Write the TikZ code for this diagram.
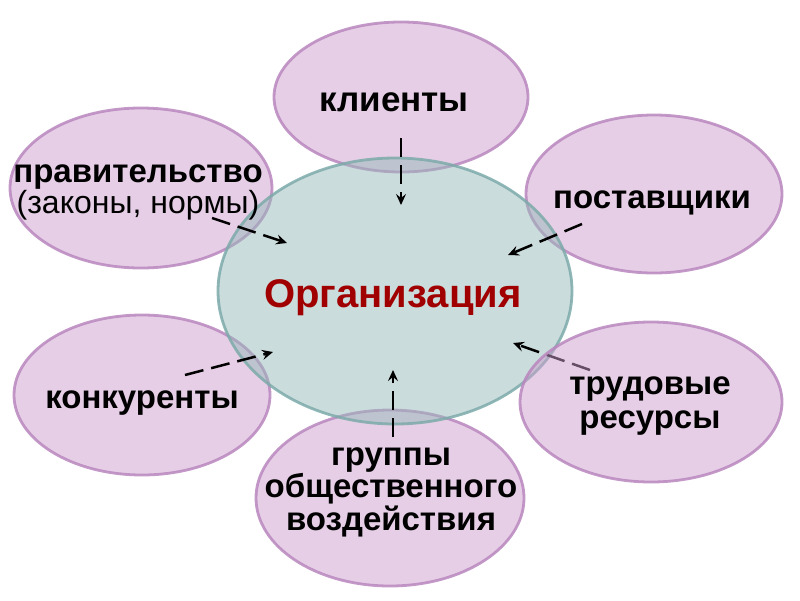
\documentclass[tikz,border=0pt]{standalone}
\usepackage{fontspec}
\setmainfont{Liberation Sans}
\usetikzlibrary{shapes.geometric,arrows.meta}
\definecolor{pinkfill}{RGB}{205,158,205}
\definecolor{pinkline}{RGB}{185,135,190}
\definecolor{tealfill}{RGB}{150,185,185}
\definecolor{tealline}{RGB}{125,170,170}
\definecolor{orgred}{RGB}{160,0,0}
\tikzset{
 outerell/.style={ellipse, draw=pinkline, line width=2.8pt, fill=pinkfill, fill opacity=0.5, draw opacity=0.85, inner sep=0pt},
 centerell/.style={ellipse, draw=tealline, line width=2.8pt, fill=tealfill, fill opacity=0.5, draw opacity=0.85, inner sep=0pt},
 lbl/.style={font=\fontsize{33}{29}\selectfont\bfseries, inner sep=0pt, anchor=base, align=center},
 lblreg/.style={font=\fontsize{32}{30}\selectfont, inner sep=0pt, anchor=base},
 orglbl/.style={font=\fontsize{40}{30}\selectfont\bfseries, text=orgred, inner sep=0pt, anchor=base},
 infl/.style={draw=black, line width=2.5pt, dash pattern=on 19pt off 8pt, -{Stealth[length=11pt,width=10pt,inset=4pt]}}
}
\begin{document}
\begin{tikzpicture}[x=1pt,y=-1pt]
\useasboundingbox (0,0) rectangle (800,600);
% outer ellipses
\node[outerell, minimum width=254pt, minimum height=150pt] (kl) at (401,97) {};
\node[outerell, minimum width=262pt, minimum height=160pt] (pr) at (141,188) {};
\node[outerell, minimum width=256pt, minimum height=158pt] (po) at (654,194) {};
\node[outerell, minimum width=256pt, minimum height=160pt] (ko) at (142,395) {};
\node[outerell, minimum width=268pt, minimum height=176pt] (gr) at (390,498) {};
% central ellipse
\node[centerell, minimum width=354pt, minimum height=266pt] (org) at (395,291) {};
% arrow of labour resources, under its ellipse
\coordinate (trA) at (590,370);
\coordinate (trB) at (513,343);
\draw[infl] (trA) -- (trB);
\node[outerell, minimum width=262pt, minimum height=160pt] (tr) at (651,402) {};
% texts
\node[lbl, font=\fontsize{35}{30}\selectfont\bfseries] (tkl) at (394,111) {клиенты};
\node[lbl] (tpr) at (138,182) {правительство};
\node[lblreg] (tpr2) at (138,213) {(законы, нормы)};
\node[lbl] (tpo) at (652,208) {поставщики};
\node[orglbl] (torg) at (393,307) {Организация};
\node[lbl] (tko) at (142,408) {конкуренты};
\node[lbl, font=\fontsize{33}{34}\selectfont\bfseries] (ttr) at (650,428) {трудовые\\ресурсы};
\node[lbl] (tgr) at (391,530) {группы\\общественного\\воздействия};
% arrows
\coordinate (klA) at (401,138);
\coordinate (klB) at (401,205);
\coordinate (prA) at (212,218);
\coordinate (prB) at (287,243);
\coordinate (poA) at (582,224);
\coordinate (poB) at (508,255);
\coordinate (koA) at (185,375);
\coordinate (koB) at (273,352);
\coordinate (grA) at (393,437);
\coordinate (grB) at (393,370);
\draw[infl] (klA) -- (klB);
\draw[infl] (prA) -- (prB);
\draw[infl] (poA) -- (poB);
\draw[infl] (koA) -- (koB);
\draw[infl] (grA) -- (grB);
\end{tikzpicture}
\end{document}
